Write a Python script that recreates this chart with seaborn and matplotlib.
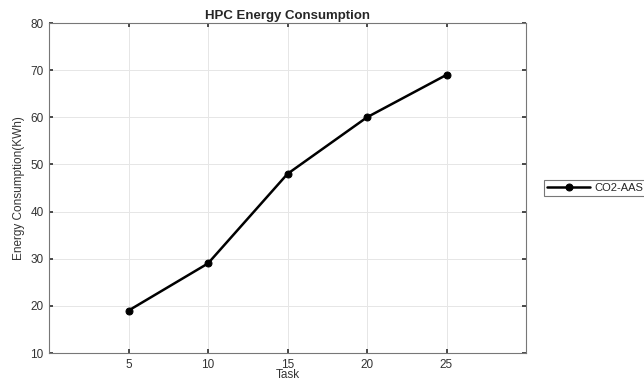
import matplotlib
matplotlib.use("Agg")
import matplotlib.pyplot as plt
import seaborn as sns
import pandas as pd

tasks = [5, 10, 15, 20, 25]
energy = [19, 29, 48, 60, 69]
series_name = "CO2-AAS"

sns.set_theme(style="whitegrid")
plt.rcParams['font.family'] = ['Liberation Sans', 'DejaVu Sans']

df = pd.DataFrame({"Task": tasks, "Energy": energy, "Series": series_name})

fig = plt.figure(figsize=(6.44, 3.80), dpi=100)
ax = fig.add_axes([49/644, 1 - 353/380, (526 - 49)/644, (353 - 23)/380])

sns.lineplot(data=df, x="Task", y="Energy", hue="Series", palette=["black"],
             marker="o", markersize=5, linewidth=1.8, markeredgecolor="black", ax=ax)

ax.set_xlim(0, 30)
ax.set_ylim(10, 80)
ax.set_xticks(tasks)
ax.set_yticks(range(10, 81, 10))
ax.set_xlabel("Task", fontsize=8.5, color="#333333", labelpad=-1)
ax.set_ylabel("Energy Consumption(KWh)", fontsize=8.5, color="#333333", labelpad=4)
ax.set_title("HPC Energy Consumption", fontsize=9.5, fontweight="bold", pad=3)
ax.tick_params(axis="both", labelsize=8.5, colors="#333333", length=3, direction="in",
               top=True, right=True, bottom=True, left=True, pad=4)
for side in ax.spines.values():
    side.set_color("#777777")
    side.set_linewidth(0.8)
ax.grid(True, color="#e6e6e6", linewidth=0.7)
ax.set_facecolor("white")

leg = ax.legend(loc="center left", bbox_to_anchor=(1.038, 0.5), fontsize=8,
                frameon=True, fancybox=False, edgecolor="#555555",
                handlelength=3.8, handletextpad=0.4, borderpad=0.3,
                borderaxespad=0)
leg.get_frame().set_linewidth(0.8)

fig.savefig("out.png", dpi=100)
